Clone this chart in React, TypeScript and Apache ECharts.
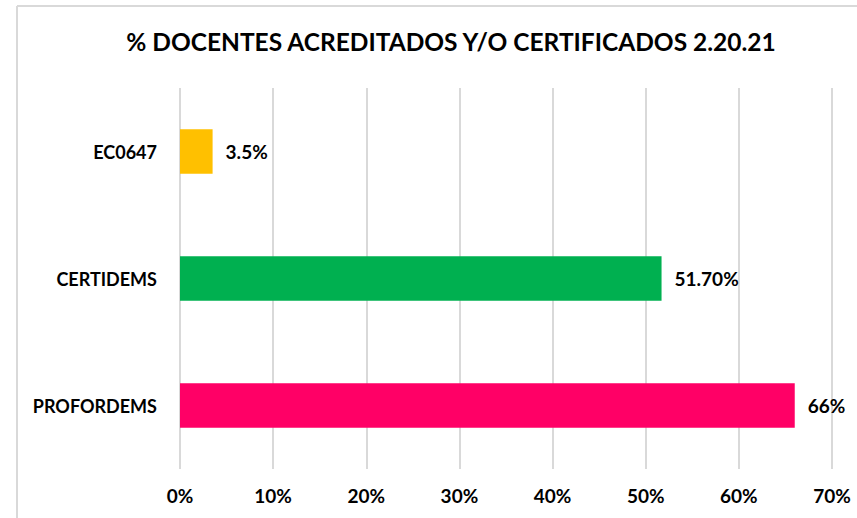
import React, { useEffect, useRef } from "react";
import * as echarts from "echarts";

const categories = ["EC0647", "CERTIDEMS", "PROFORDEMS"];
const values = [3.5, 51.7, 66];
const valueLabels = ["3.5%", "51.70%", "66%"];
const colors = ["#FFC000", "#00B050", "#FF0066"];
const xTicks = [0, 10, 20, 30, 40, 50, 60, 70];
const title = "% DOCENTES ACREDITADOS Y/O CERTIFICADOS 2.20.21";

const FONT = "Lato";

export default function App() {
  const ref = useRef<HTMLDivElement>(null);
  useEffect(() => {
    if (!ref.current) return;
    const chart = echarts.init(ref.current, undefined, { renderer: "svg" });
    chart.setOption({
      animation: false,
      backgroundColor: "#ffffff",
      title: {
        text: title,
        left: 446,
        textAlign: "center",
        top: 24,
        textStyle: { fontFamily: FONT, fontWeight: "bold", fontSize: 24.5, color: "#000000" },
      },
      graphic: [
        { type: "line", shape: { x1: 17, y1: 6, x2: 857, y2: 6 }, style: { stroke: "#D9D9D9", lineWidth: 2 } },
        { type: "line", shape: { x1: 17, y1: 6, x2: 17, y2: 518 }, style: { stroke: "#D9D9D9", lineWidth: 2 } },
      ],
      grid: { left: 180, right: 25, top: 88, bottom: 49, containLabel: false },
      xAxis: {
        type: "value",
        min: xTicks[0],
        max: xTicks[xTicks.length - 1],
        interval: 10,
        axisLine: { show: false },
        axisTick: { show: false },
        splitLine: { show: true, lineStyle: { color: "#D9D9D9", width: 2 } },
        axisLabel: {
          formatter: "{value}%",
          margin: 17,
          fontFamily: FONT,
          fontWeight: "bold",
          fontSize: 19,
          color: "#000000",
        },
      },
      yAxis: {
        type: "category",
        inverse: true,
        data: categories,
        axisLine: { show: false },
        axisTick: { show: false },
        axisLabel: {
          margin: 23,
          fontFamily: FONT,
          fontWeight: "bold",
          fontSize: 18,
          color: "#000000",
        },
      },
      series: [
        {
          type: "bar",
          barWidth: "35%",
          data: values.map((v, i) => ({
            value: v,
            itemStyle: { color: colors[i] },
            label: { formatter: valueLabels[i] },
          })),
          label: {
            show: true,
            position: "right",
            distance: 13,
            fontFamily: FONT,
            fontWeight: "bold",
            fontSize: 19,
            color: "#000000",
          },
        },
      ],
    });
    return () => chart.dispose();
  }, []);
  return (
    <div
      ref={ref}
      style={{ position: "fixed", left: 0, top: 0, width: 857, height: 518 }}
    />
  );
}
